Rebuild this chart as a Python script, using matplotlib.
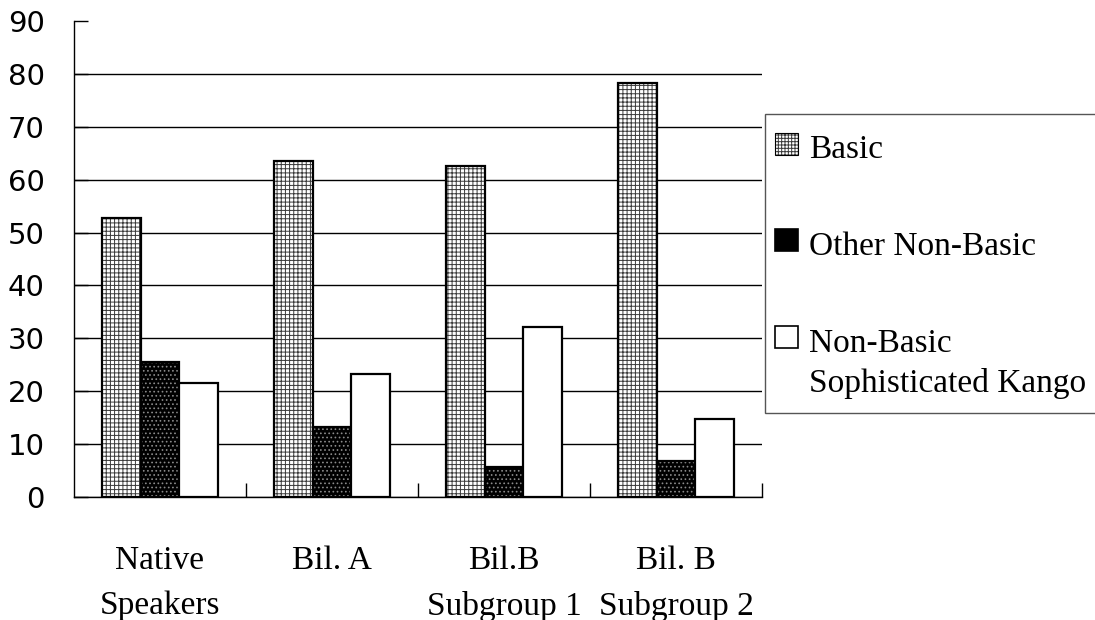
import matplotlib
matplotlib.use("Agg")
import matplotlib.pyplot as plt
from matplotlib.patches import Rectangle
import numpy as np

# Word-type proportions (%) per speaker group
groups = ["Native\nSpeakers", "Bil. A", "Bil.B\nSubgroup 1", "Bil. B\nSubgroup 2"]
series_names = ["Basic", "Other Non-Basic", "Non-Basic\nSophisticated Kango"]
basic = [52.7, 63.6, 62.6, 78.3]
other_non_basic = [25.6, 13.2, 5.6, 6.9]
sophisticated_kango = [21.5, 23.3, 32.2, 14.7]
y_ticks = [0, 10, 20, 30, 40, 50, 60, 70, 80, 90]

plt.rcParams["hatch.linewidth"] = 0.7

W, H = 1095, 620
fig = plt.figure(figsize=(W / 100, H / 100), dpi=100)
ax = fig.add_axes([74 / W, 1 - 497 / H, (762 - 74) / W, (497 - 21) / H])

x = np.arange(len(groups))
w = 0.224
edge_lw = 1.6

# style per series: (face, hatch colour, hatch)
styles = [
    ("white", "#3a3a3a", "++++"),
    ("black", "#8a8a8a", "...."),
    ("white", "black", None),
]
series = [basic, other_non_basic, sophisticated_kango]

for i, (vals, (face, hcol, hatch)) in enumerate(zip(series, styles)):
    pos = x + (i - 1) * w
    if hatch:
        ax.bar(pos, vals, w, facecolor=face, edgecolor=hcol, linewidth=0,
               hatch=hatch, zorder=2)
        ax.bar(pos, vals, w, fill=False, edgecolor="black", linewidth=edge_lw, zorder=3)
    else:
        ax.bar(pos, vals, w, facecolor=face, edgecolor="black",
               linewidth=edge_lw, zorder=3)

ax.set_xlim(-0.5, len(groups) - 0.5)
ax.set_ylim(0, 90)
ax.set_yticks(y_ticks)
ax.set_yticklabels([str(v) for v in y_ticks], fontsize=21, family="DejaVu Sans")
ax.tick_params(axis="y", direction="in", length=10, width=1, pad=21, left=True)

# Group labels under the categories, boundary ticks between them
ax.set_xticks(x)
ax.set_xticklabels(groups, fontsize=24, family="Liberation Serif", linespacing=1.62)
ax.tick_params(axis="x", which="major", length=0, pad=35)
ax.set_xticks(np.arange(0.5, len(groups), 1.0), minor=True)
ax.tick_params(axis="x", which="minor", direction="in", length=10, width=1)

for side in ("top", "right"):
    ax.spines[side].set_visible(False)
for side in ("left", "bottom"):
    ax.spines[side].set_linewidth(1)
    ax.spines[side].set_color("black")

ax.set_axisbelow(True)
ax.yaxis.grid(True, color="black", linewidth=1)
ax.get_ygridlines()[-1].set_visible(False)


# Legend box to the right of the plot (pixel layout, y measured from the top)
def fx(px):
    return px / W


def fy(py):
    return 1 - py / H


fig.add_artist(Rectangle((fx(765), fy(413)), fx(1110) - fx(765), fy(114) - fy(413),
                         transform=fig.transFigure, facecolor="white",
                         edgecolor="#555555", linewidth=1, clip_on=False))

handle_centers = [144, 240, 337]
text_baselines = [158, 255, 352]
for name, (face, hcol, hatch), hc, tb in zip(series_names, styles,
                                             handle_centers, text_baselines):
    if hatch == "++++":
        fig.add_artist(Rectangle((fx(775), fy(hc + 11)), fx(23), 22 / H,
                                 transform=fig.transFigure, facecolor="white",
                                 edgecolor="#3a3a3a", hatch="+++++", linewidth=0))
        fig.add_artist(Rectangle((fx(775), fy(hc + 11)), fx(23), 22 / H,
                                 transform=fig.transFigure, fill=False,
                                 edgecolor="black", linewidth=0.8))
    else:
        fig.add_artist(Rectangle((fx(775), fy(hc + 11)), fx(23), 22 / H,
                                 transform=fig.transFigure, facecolor=face,
                                 edgecolor="black", linewidth=1.2))
    lines = name.split("\n")
    for k, line in enumerate(lines):
        fig.text(fx(809), fy(tb + 40 * k), line, ha="left", va="baseline",
                 fontsize=24, family=["Liberation Serif"], color="black")

fig.savefig("out.png", dpi=100)
